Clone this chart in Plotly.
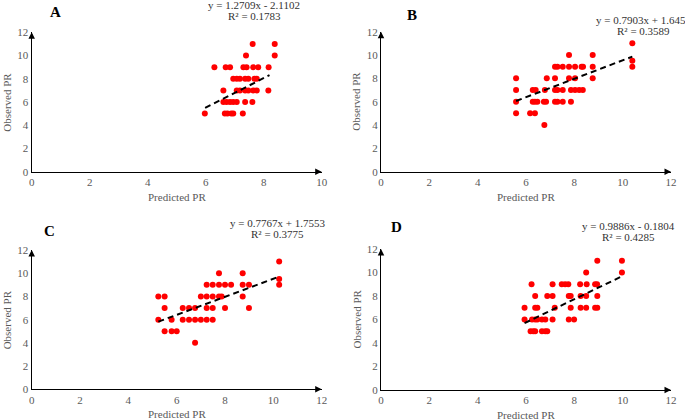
import plotly.graph_objects as go

# ---------------- data ----------------
A_x = [7.62, 8.38, 7.39, 8.38,
       6.30, 6.69, 6.84, 7.30, 7.41, 7.64, 7.81, 8.17,
       6.95, 7.07, 7.18, 7.36, 7.47, 7.68, 7.76,
       6.61, 7.07, 7.18, 7.36, 7.47, 7.64, 7.76, 8.16,
       6.61, 6.72, 6.84, 6.95, 7.07, 7.36, 7.61,
       5.97, 6.66, 6.75, 6.88, 6.95, 7.28]
A_y = [11, 11, 10, 10,
       9, 9, 9, 9, 9, 9, 9, 9,
       8, 8, 8, 8, 8, 8, 8,
       7, 7, 7, 7, 7, 7, 7, 7,
       6, 6, 6, 6, 6, 6, 6,
       5, 5, 5, 5, 5, 5]

B_x = [10.4, 10.4, 10.4, 7.78, 8.76,
       7.20, 7.30, 7.52, 7.78, 8.03, 8.30, 8.36, 8.76,
       5.59, 6.86, 7.20, 7.78, 8.03, 8.76,
       5.59, 6.28, 6.40, 6.78, 7.20, 7.30, 7.52, 7.86, 8.03, 8.20, 8.35,
       5.59, 6.28, 6.37, 6.47, 6.74, 6.83, 7.20, 7.30, 7.52, 7.86,
       5.59, 6.17, 6.37,
       6.76]
B_y = [11, 9.5, 9, 10, 10,
       9, 9, 9, 9, 9, 9, 9, 9,
       8, 8, 8, 8, 8, 8,
       7, 7, 7, 7, 7, 7, 7, 7, 7, 7, 7,
       6, 6, 6, 6, 6, 6, 6, 6, 6, 6,
       5, 5, 5,
       4]

C_x = [10.24, 7.75, 8.73, 10.24,
       7.24, 7.49, 7.75, 8.00, 8.25, 8.73, 8.99, 10.24,
       5.24, 5.50, 7.00, 7.24, 7.49, 7.75, 7.86, 8.73,
       5.50, 6.25, 6.51, 6.76, 7.24, 7.49, 8.00, 8.99,
       5.24, 5.79, 6.25, 6.51, 6.76, 7.00, 7.24, 7.49,
       5.50, 5.79, 6.00,
       6.76]
C_y = [11, 10, 10, 9.5,
       9, 9, 9, 9, 9, 9, 9, 9,
       8, 8, 8, 8, 8, 8, 8, 8,
       7, 7, 7, 7, 7, 7, 7, 7,
       6, 6, 6, 6, 6, 6, 6, 6,
       5, 5, 5,
       4]

D_x = [8.95, 9.97, 8.49, 9.97,
       6.23, 7.10, 7.48, 7.62, 7.75, 8.24, 8.51, 8.86, 8.94,
       6.38, 6.88, 7.10, 7.77, 7.85, 8.26, 8.49, 8.95,
       5.94, 6.38, 6.47, 7.19, 7.85, 8.26, 8.49, 8.86, 8.95,
       5.94, 6.25, 6.38, 6.47, 6.66, 6.80, 7.10, 7.77, 7.99,
       6.19, 6.30, 6.38, 6.66, 6.80, 6.88]
D_y = [11, 11, 10, 10,
       9, 9, 9, 9, 9, 9, 9, 9, 9,
       8, 8, 8, 8, 8, 8, 8, 8,
       7, 7, 7, 7, 7, 7, 7, 7, 7,
       6, 6, 6, 6, 6, 6, 6, 6, 6,
       5, 5, 5, 5, 5, 5]

panel_labels = ["A", "B", "C", "D"]
slopes = [1.2709, 0.7903, 0.7767, 0.9886]
intercepts = [-2.1102, 1.645, 1.7553, -0.1804]
trend_x = [[5.98, 8.2], [5.59, 10.4], [5.24, 10.24], [5.94, 9.97]]
equations = ["y = 1.2709x - 2.1102", "y = 0.7903x + 1.645",
             "y = 0.7767x + 1.7553", "y = 0.9886x - 0.1804"]
r2_texts = ["R² = 0.1783", "R² = 0.3589", "R² = 0.3775", "R² = 0.4285"]
x_max = [10, 12, 12, 12]
y_max = [12, 12, 12, 12]
x_ticks = [[0, 2, 4, 6, 8, 10], [0, 2, 4, 6, 8, 10, 12],
           [0, 2, 4, 6, 8, 10, 12], [0, 2, 4, 6, 8, 10, 12]]
y_ticks = [0, 2, 4, 6, 8, 10, 12]
x_title = "Predicted PR"
y_title = "Observed PR"

# ---------------- layout helpers ----------------
W, H = 685, 420
def px(v):
    return v / W
def py(v):
    return 1 - v / H

# plot boxes in pixels: (left, right, top, bottom)
boxes = [(31.7, 321.7, 32.3, 171.7),
         (381.0, 671.0, 31.7, 171.7),
         (31.7, 321.7, 250.0, 389.3),
         (381.0, 671.0, 249.0, 390.0)]
letter_pos = [(55, 12), (412, 15), (50, 231), (396, 227)]
eq_pos = [(254, 5), (641, 20), (277, 223), (628, 226)]
r2_pos = [(254, 16.3), (643, 31.3), (277, 234.3), (628, 237.3)]

xs = [A_x, B_x, C_x, D_x]
ys = [A_y, B_y, C_y, D_y]

fig = go.Figure()
font_serif = "Liberation Serif"
gray = "#595959"
annotations = []
layout_axes = {}

for i in range(4):
    xa = "x" if i == 0 else f"x{i+1}"
    ya = "y" if i == 0 else f"y{i+1}"
    xkey = "xaxis" if i == 0 else f"xaxis{i+1}"
    ykey = "yaxis" if i == 0 else f"yaxis{i+1}"
    l, r, t, b = boxes[i]
    layout_axes[xkey] = dict(
        domain=[px(l), px(r)], anchor=ya, range=[0, x_max[i]],
        tickvals=x_ticks[i], showgrid=False, zeroline=False, automargin=False,
        showline=True, linecolor="#000000", linewidth=1.3, ticks="",
        tickfont=dict(family=font_serif, size=11, color=gray), fixedrange=True)
    layout_axes[ykey] = dict(
        domain=[py(b), py(t)], anchor=xa, range=[0, y_max[i]],
        tickvals=y_ticks, showgrid=False, zeroline=False, automargin=False,
        showline=True, linecolor="#000000", linewidth=1.3, ticks="",
        tickfont=dict(family=font_serif, size=11, color=gray), fixedrange=True)

    fig.add_trace(go.Scatter(
        x=xs[i], y=ys[i], mode="markers", xaxis=xa, yaxis=ya,
        marker=dict(color="#ff0000", size=6, line=dict(width=0)),
        showlegend=False, cliponaxis=False))
    tx = trend_x[i]
    fig.add_trace(go.Scatter(
        x=tx, y=[slopes[i] * v + intercepts[i] for v in tx], mode="lines",
        xaxis=xa, yaxis=ya, line=dict(color="#000000", width=2, dash="6px,4px"),
        showlegend=False))

    # arrows at axis ends
    annotations.append(dict(xref=f"{xa} domain", yref=f"{ya} domain", x=1, y=0,
                            ax=-7, ay=0, axref="pixel", ayref="pixel", text="",
                            showarrow=True, arrowhead=2, arrowsize=1,
                            arrowwidth=1.3, arrowcolor="#000000"))
    annotations.append(dict(xref=f"{xa} domain", yref=f"{ya} domain", x=0, y=1,
                            ax=0, ay=7, axref="pixel", ayref="pixel", text="",
                            showarrow=True, arrowhead=2, arrowsize=1,
                            arrowwidth=1.3, arrowcolor="#000000"))
    # axis titles
    annotations.append(dict(xref=f"{xa} domain", yref=f"{ya} domain", x=0.5, y=0,
                            yanchor="middle", yshift=-25, text=x_title,
                            showarrow=False,
                            font=dict(family=font_serif, size=11, color=gray)))
    annotations.append(dict(xref=f"{xa} domain", yref=f"{ya} domain", x=0, y=0.5,
                            xanchor="center", xshift=-25, textangle=-90,
                            text=y_title, showarrow=False,
                            font=dict(family=font_serif, size=11, color=gray)))
    # panel letter
    lx, ly = letter_pos[i]
    annotations.append(dict(xref="paper", yref="paper", x=px(lx), y=py(ly),
                            xanchor="center", yanchor="middle",
                            text=f"<b>{panel_labels[i]}</b>", showarrow=False,
                            font=dict(family=font_serif, size=15, color="#000000")))
    # equation
    ex, ey = eq_pos[i]
    annotations.append(dict(xref="paper", yref="paper", x=px(ex), y=py(ey),
                            xanchor="center", yanchor="middle",
                            text=equations[i], showarrow=False,
                            font=dict(family=font_serif, size=11, color="#333333")))
    rx, ry = r2_pos[i]
    annotations.append(dict(xref="paper", yref="paper", x=px(rx), y=py(ry),
                            xanchor="center", yanchor="middle",
                            text=r2_texts[i], showarrow=False,
                            font=dict(family=font_serif, size=11, color="#333333")))

fig.update_layout(
    width=W, height=H, margin=dict(l=0, r=0, t=0, b=0),
    paper_bgcolor="#ffffff", plot_bgcolor="#ffffff",
    annotations=annotations, showlegend=False, **layout_axes)

fig.write_html("out.html", config={"displayModeBar": False},
               post_script="document.body.style.margin='0';document.body.style.overflow='hidden';")
